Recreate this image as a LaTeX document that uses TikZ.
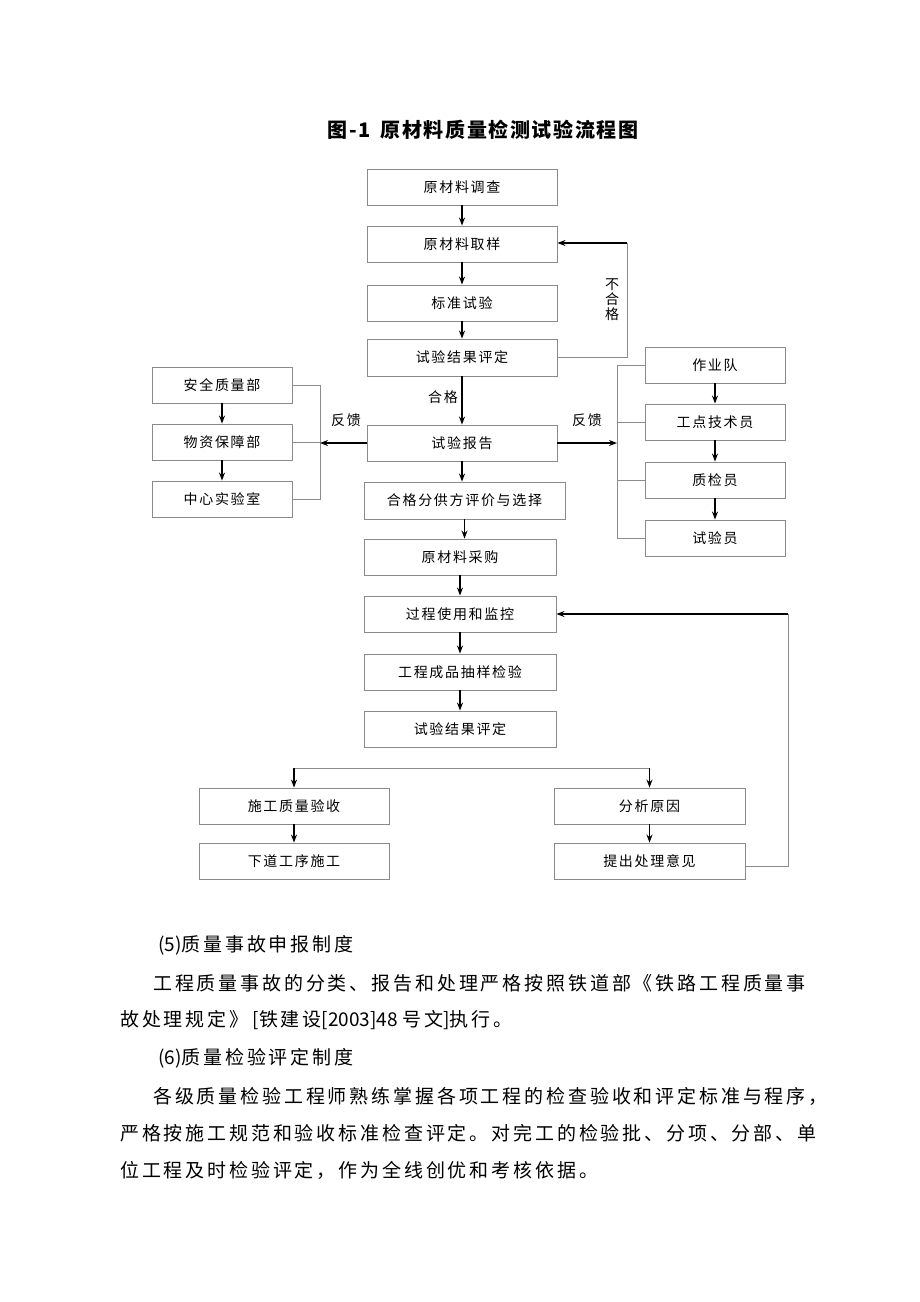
\documentclass[tikz,border=0pt]{standalone}
\usepackage{fontspec}
\setmainfont{Noto Sans CJK SC}
\newfontfamily\boxfont[LetterSpace=12]{Noto Sans CJK SC}
\newfontfamily\bodyfont[LetterSpace=15]{Noto Sans CJK SC}
\newfontfamily\plainfont{Noto Sans CJK SC}
\newfontfamily\titlefont[LetterSpace=8]{Noto Sans CJK SC}
\usetikzlibrary{arrows.meta}
\definecolor{boxgray}{HTML}{8A8A8A}
\definecolor{linegray}{HTML}{8C8C8C}
\tikzset{
  fbox/.style={draw=boxgray, line width=0.9pt, minimum height=36pt, inner sep=0pt,
    font=\boxfont\fontsize{14}{16}\selectfont},
  arr/.style={line width=1.3pt, -{Stealth[length=8pt,width=6pt]}},
  gline/.style={draw=linegray, line width=0.8pt},
  lbl/.style={inner sep=0pt, font=\boxfont\fontsize{14}{16}\selectfont},
  body/.style={anchor=west, inner sep=0pt, font=\bodyfont\fontsize{19}{21}\selectfont}
}
\newcommand{\asc}[1]{{\plainfont #1}}
\begin{document}
\begin{tikzpicture}[x=1pt,y=-1pt]
\useasboundingbox (0,0) rectangle (920,1302);
% title
\node[inner sep=0pt, font=\titlefont\bfseries\fontsize{20}{22}\selectfont] (title) at (483,130) {图-1\hspace{10pt}原材料质量检测试验流程图};
% main column
\node[fbox, minimum width=190pt] (b1) at (462,187) {原材料调查};
\node[fbox, minimum width=190pt] (b2) at (462,244) {原材料取样};
\node[fbox, minimum width=190pt] (b3) at (462,303) {标准试验};
\node[fbox, minimum width=190pt, minimum height=37pt] (b4) at (462,357.5) {试验结果评定};
\node[fbox, minimum width=190pt] (b5) at (462,443) {试验报告};
\node[fbox, minimum width=201pt, minimum height=37pt] (b6) at (464.5,500.5) {合格分供方评价与选择};
\node[fbox, minimum width=192pt] (b7) at (460,557) {原材料采购};
\node[fbox, minimum width=192pt] (b8) at (460,614) {过程使用和监控};
\node[fbox, minimum width=192pt] (b9) at (460,672) {工程成品抽样检验};
\node[fbox, minimum width=192pt] (b10) at (460,729) {试验结果评定};
% left column
\node[fbox, minimum width=140pt] (l1) at (222,385) {安全质量部};
\node[fbox, minimum width=140pt] (l2) at (222,442) {物资保障部};
\node[fbox, minimum width=140pt] (l3) at (222,499) {中心实验室};
% right column
\node[fbox, minimum width=140pt] (r1) at (715,365) {作业队};
\node[fbox, minimum width=140pt] (r2) at (715,422) {工点技术员};
\node[fbox, minimum width=140pt] (r3) at (715,480) {质检员};
\node[fbox, minimum width=140pt] (r4) at (715,538) {试验员};
% bottom
\node[fbox, minimum width=190pt] (s1) at (294,806) {施工质量验收};
\node[fbox, minimum width=190pt] (s2) at (294,861) {下道工序施工};
\node[fbox, minimum width=191pt] (f1) at (649.5,806) {分析原因};
\node[fbox, minimum width=191pt] (f2) at (649.5,861) {提出处理意见};

% main arrows
\foreach \a/\b in {b1/b2,b2/b3,b3/b4,b4/b5,b5/b6,b6/b7,b7/b8,b8/b9,b9/b10,l1/l2,l2/l3,r1/r2,r2/r3,r3/r4,s1/s2,f1/f2}
  \draw[arr] (\a.south) -- (\a.south |- \b.north);

% not-qualified loop
\coordinate (nq1) at (627,357);
\coordinate (nq2) at (627,243);
\draw[gline] (b4.east |- nq1) -- (nq1) -- (nq2);
\draw[arr] (nq2) -- (b2.east |- nq2);
\node[lbl, align=center] (nql) at (612,300) {不\\[-1pt]合\\[-1pt]格};
\node[lbl] (ql) at (443,397) {合格};

% left feedback
\coordinate (lb) at (320,443);
\draw[gline] (l1.east) -- (320,385) -- (320,499) -- (l3.east);
\draw[gline] (l2.east) -- (320,442);
\draw[arr] (b5.west) -- (lb);
\node[lbl] (fl) at (346,420) {反馈};

% right feedback
\coordinate (rb) at (617,443);
\draw[gline] (r1.west) -- (617,365) -- (617,538) -- (r4.west);
\draw[gline] (r2.west) -- (617,422);
\draw[gline] (r3.west) -- (617,480);
\draw[arr] (b5.east) -- (rb);
\node[lbl] (fr) at (587,420) {反馈};

% split
\coordinate (sp1) at (294,768);
\coordinate (sp2) at (649.5,768);
\draw[gline] (sp1) -- (sp2);
\draw[arr] (sp1) -- (s1.north);
\draw[arr] (sp2) -- (f1.north);

% right loop
\coordinate (rl1) at (788,866);
\coordinate (rl2) at (788,614);
\draw[gline] (f2.east |- rl1) -- (rl1) -- (rl2);
\draw[arr] (rl2) -- (b8.east);

% body text
\node[body] (t1) at (158,945) {\asc{(5)}质量事故申报制度};
\node[body] (t2) at (153,983) {工程质量事故的分类、报告和处理严格按照铁道部《铁路工程质量事};
\node[body] (t3) at (120,1020) {故处理规定》\asc{ [}铁建设\asc{[2003]48 }号文\asc{]}执行。};
\node[body] (t4) at (158,1058) {\asc{(6)}质量检验评定制度};
\node[body] (t5) at (153,1096) {各级质量检验工程师熟练掌握各项工程的检查验收和评定标准与程序，};
\node[body] (t6) at (120,1133) {严格按施工规范和验收标准检查评定。对完工的检验批、分项、分部、单};
\node[body] (t7) at (120,1170) {位工程及时检验评定，作为全线创优和考核依据。};
\end{tikzpicture}
\end{document}
